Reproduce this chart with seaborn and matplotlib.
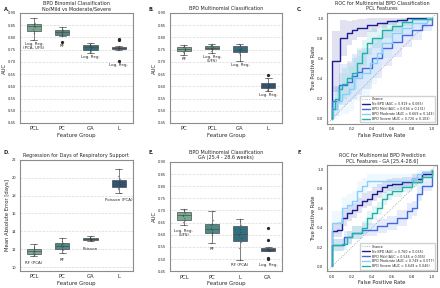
import numpy as np
import pandas as pd
import seaborn as sns
import matplotlib.pyplot as plt

# A - binomial classification, AUC per CV fold
a_groups = ["PCL", "PC", "GA", "L"]
a_pcl = [0.79, 0.82, 0.825, 0.835, 0.843, 0.847, 0.85, 0.855, 0.858, 0.88]
a_pc = [0.78, 0.805, 0.81, 0.815, 0.82, 0.822, 0.826, 0.832, 0.835, 0.842]
a_ga = [0.738, 0.742, 0.746, 0.75, 0.757, 0.762, 0.766, 0.77, 0.772, 0.776]
a_l = [0.705, 0.748, 0.752, 0.755, 0.757, 0.758, 0.761, 0.763, 0.79, 0.795]
a_models = ["Log. Reg.\n(PCA, UFS)", "RF", "Log. Reg.", "Log. Reg."]

# B - multinomial classification
b_groups = ["PC", "PCL", "GA", "L"]
b_pc = [0.727, 0.735, 0.742, 0.747, 0.75, 0.754, 0.758, 0.762, 0.765, 0.77]
b_pcl = [0.735, 0.745, 0.751, 0.754, 0.757, 0.76, 0.764, 0.767, 0.77, 0.773]
b_ga = [0.705, 0.73, 0.738, 0.745, 0.749, 0.752, 0.758, 0.765, 0.769, 0.772]
b_l = [0.58, 0.585, 0.59, 0.595, 0.598, 0.602, 0.607, 0.613, 0.632, 0.647]
b_models = ["RF", "Log. Reg.\n(UFS)", "Log. Reg.", "Log. Reg."]

# D - regression, MAE in days
d_groups = ["PCL", "PC", "GA", "L"]
d_pcl = [11.3, 11.4, 11.5, 11.6, 11.7, 11.8, 11.95, 12.1, 12.3, 12.6]
d_pc = [11.6, 11.9, 12.0, 12.2, 12.35, 12.45, 12.6, 12.75, 12.9, 13.3]
d_ga = [12.9, 12.98, 13.02, 13.06, 13.1, 13.13, 13.17, 13.22, 13.35, 13.45]
d_l = [18.3, 18.7, 18.9, 19.1, 19.25, 19.4, 19.6, 19.85, 20.2, 21.0]
d_models = ["RF (PCA)", "RF", "Poisson", "Poisson (PCA)"]

# E - multinomial, GA subset
e_groups = ["PCL", "PC", "L", "GA"]
e_pcl = [0.64, 0.652, 0.66, 0.67, 0.678, 0.683, 0.69, 0.697, 0.703, 0.707]
e_pc = [0.565, 0.6, 0.607, 0.613, 0.62, 0.628, 0.64, 0.646, 0.66, 0.698]
e_l = [0.497, 0.545, 0.57, 0.585, 0.6, 0.61, 0.625, 0.64, 0.655, 0.666]
e_ga = [0.50, 0.505, 0.532, 0.537, 0.54, 0.543, 0.546, 0.548, 0.58, 0.63]
e_models = ["Log. Reg.\n(UFS)", "RF", "RF (PCA)", "Log. Reg."]

# C - mean ROC curves (fpr, tpr, sd)
c_nobpd_x = [0, 0, 0.08, 0.15, 0.2, 0.25, 0.35, 0.45, 0.55, 0.65, 0.75, 1.0]
c_nobpd_y = [0, 0.57, 0.8, 0.85, 0.88, 0.9, 0.93, 0.95, 0.97, 0.98, 1.0, 1.0]
c_nobpd_sd = [0, 0.3, 0.18, 0.12, 0.1, 0.09, 0.07, 0.05, 0.04, 0.03, 0.02, 0]
c_mild_x = [0, 0, 0.07, 0.15, 0.2, 0.25, 0.3, 0.4, 0.5, 0.6, 0.7, 0.8, 0.9, 1.0, 1.0]
c_mild_y = [0, 0.18, 0.34, 0.37, 0.42, 0.46, 0.5, 0.6, 0.7, 0.76, 0.83, 0.88, 0.93, 0.97, 1.0]
c_mild_sd = [0, 0.15, 0.2, 0.2, 0.22, 0.22, 0.2, 0.2, 0.18, 0.15, 0.12, 0.1, 0.06, 0.03, 0]
c_mod_x = [0, 0, 0.05, 0.1, 0.17, 0.22, 0.3, 0.38, 0.45, 0.5, 0.6, 0.7, 0.8, 0.95, 1.0]
c_mod_y = [0, 0.1, 0.18, 0.25, 0.3, 0.4, 0.45, 0.55, 0.65, 0.75, 0.85, 0.9, 0.95, 1.0, 1.0]
c_mod_sd = [0, 0.1, 0.15, 0.2, 0.22, 0.22, 0.22, 0.2, 0.18, 0.15, 0.1, 0.08, 0.05, 0.02, 0]
c_sev_x = [0, 0, 0.03, 0.07, 0.1, 0.15, 0.2, 0.25, 0.3, 0.35, 0.4, 0.5, 0.6, 0.7, 0.8, 1.0]
c_sev_y = [0, 0.1, 0.2, 0.3, 0.35, 0.4, 0.45, 0.55, 0.65, 0.75, 0.8, 0.88, 0.92, 0.96, 0.99, 1.0]
c_sev_sd = [0, 0.1, 0.12, 0.15, 0.15, 0.15, 0.15, 0.15, 0.13, 0.12, 0.1, 0.08, 0.06, 0.04, 0.02, 0]
c_labels = ["No BPD (AUC = 0.919 \u00b1 0.065)", "BPD Mild (AUC = 0.694 \u00b1 0.131)",
            "BPD Moderate (AUC = 0.669 \u00b1 0.143)", "BPD Severe (AUC = 0.726 \u00b1 0.103)"]

# F - mean ROC curves, GA subset
f_nobpd_x = [0, 0, 0.05, 0.1, 0.15, 0.2, 0.25, 0.3, 0.35, 0.4, 0.45, 0.5, 0.55, 0.6, 0.7, 0.8, 0.9, 1.0, 1.0]
f_nobpd_y = [0, 0.37, 0.38, 0.5, 0.55, 0.58, 0.63, 0.68, 0.7, 0.75, 0.78, 0.82, 0.84, 0.85, 0.87, 0.9, 0.95, 0.97, 1.0]
f_nobpd_sd = [0, 0.07, 0.08, 0.08, 0.08, 0.08, 0.08, 0.08, 0.08, 0.07, 0.07, 0.06, 0.06, 0.06, 0.05, 0.05, 0.04, 0.03, 0]
f_mild_x = [0, 0, 0.12, 0.2, 0.3, 0.45, 0.55, 0.65, 0.75, 0.8, 0.85, 0.9, 1.0, 1.0]
f_mild_y = [0, 0.22, 0.3, 0.35, 0.38, 0.42, 0.45, 0.5, 0.57, 0.6, 0.75, 0.83, 0.97, 1.0]
f_mild_sd = [0, 0.06, 0.07, 0.07, 0.07, 0.07, 0.07, 0.08, 0.08, 0.08, 0.07, 0.05, 0.03, 0]
f_mod_x = [0, 0, 0.1, 0.15, 0.2, 0.25, 0.3, 0.35, 0.8, 0.85, 0.9, 1.0]
f_mod_y = [0, 0.45, 0.6, 0.63, 0.68, 0.78, 0.83, 0.88, 0.9, 0.95, 0.97, 1.0]
f_mod_sd = [0, 0.12, 0.12, 0.12, 0.1, 0.1, 0.08, 0.07, 0.06, 0.05, 0.03, 0]
f_sev_x = [0, 0, 0.1, 0.15, 0.2, 0.3, 0.35, 0.4, 0.45, 0.5, 0.55, 0.6, 0.7, 0.8, 0.9, 1.0, 1.0]
f_sev_y = [0, 0.22, 0.23, 0.3, 0.35, 0.4, 0.5, 0.55, 0.6, 0.7, 0.75, 0.78, 0.82, 0.87, 0.92, 0.95, 1.0]
f_sev_sd = [0, 0.06, 0.06, 0.07, 0.07, 0.07, 0.07, 0.07, 0.07, 0.07, 0.06, 0.06, 0.05, 0.05, 0.04, 0.03, 0]
f_labels = ["No BPD (AUC = 0.760 \u00b1 0.035)", "BPD Mild (AUC = 0.546 \u00b1 0.055)",
            "BPD Moderate (AUC = 0.749 \u00b1 0.077)", "BPD Severe (AUC = 0.649 \u00b1 0.046)"]

roc_colors = ["#1c1c94", "#4169e1", "#87cefa", "#20b2aa"]

sns.set_theme(style="white")
plt.rcParams["font.family"] = ["DejaVu Sans"]

pal = sns.color_palette("crest", 4)


def style_axes(ax):
    for s in ax.spines.values():
        s.set_color("0.55")
        s.set_linewidth(0.8)
    ax.tick_params(axis="both", length=1.5, width=0.4, pad=1, color="0.3")


def box_panel(ax, groups, values, models, title, ylabel, ylim, yticks, pad):
    df = pd.DataFrame({
        "group": np.repeat(groups, [len(v) for v in values]),
        "score": np.concatenate(values),
    })
    sns.boxplot(data=df, x="group", y="score", hue="group", order=groups,
                hue_order=groups, palette=pal, legend=False, width=0.5,
                linewidth=0.5, linecolor="0.3", fliersize=1.3, ax=ax,
                flierprops=dict(marker="o", markerfacecolor="0.15",
                                markeredgecolor="0.15"))
    sns.stripplot(data=df, x="group", y="score", order=groups, color="0.2",
                  size=1.0, jitter=0.03, alpha=0.5, ax=ax)
    for i, v in enumerate(values):
        ax.annotate(models[i], xy=(i, min(v)), xytext=(0, -pad),
                    textcoords="offset points", ha="center", va="top",
                    fontsize=2.9, linespacing=1.0)
    ax.set_ylim(ylim)
    ax.set_yticks(yticks)
    ax.yaxis.grid(True, linestyle="--", color="0.85", linewidth=0.5)
    ax.set_axisbelow(True)
    ax.set_title(title, fontsize=3.5, pad=2, linespacing=1.1)
    ax.set_xlabel("Feature Group", fontsize=3.9, labelpad=1)
    ax.set_ylabel(ylabel, fontsize=3.8, labelpad=1)
    ax.tick_params(axis="x", labelsize=3.8)
    ax.tick_params(axis="y", labelsize=2.6)
    style_axes(ax)


def roc_panel(ax, curves, labels, title):
    ax.axline((0, 0), slope=1, color="0.6", linestyle=":", linewidth=0.6,
              label="Chance")
    for (xs, ys, sd), lab, col in zip(curves, labels, roc_colors):
        ys = np.array(ys)
        sd = np.array(sd)
        ax.fill_between(xs, np.clip(ys - sd, 0, 1), np.clip(ys + sd, 0, 1),
                        step="post", color=col, alpha=0.13, linewidth=0)
        sns.lineplot(x=xs, y=ys, drawstyle="steps-post", estimator=None,
                     sort=False, color=col, linewidth=1.0, label=lab, ax=ax)
    ax.set_xlim(-0.05, 1.05)
    ax.set_ylim(-0.05, 1.05)
    ax.set_xticks(np.arange(0, 1.01, 0.2))
    ax.set_yticks(np.arange(0, 1.01, 0.2))
    ax.set_title(title, fontsize=3.5, pad=2, linespacing=1.1)
    ax.set_xlabel("False Positive Rate", fontsize=3.7, labelpad=1)
    ax.set_ylabel("True Positive Rate", fontsize=3.7, labelpad=1)
    ax.tick_params(labelsize=2.8)
    ax.legend(loc="lower right", fontsize=2.3, frameon=True, edgecolor="0.8",
              handlelength=2.5, borderpad=0.4, labelspacing=0.3,
              framealpha=0.9, fancybox=False)
    style_axes(ax)


fig = plt.figure(figsize=(4.4, 2.88), dpi=100)
ax_a = fig.add_axes([0.045, 0.573, 0.257, 0.382])
ax_b = fig.add_axes([0.386, 0.573, 0.255, 0.382])
ax_c = fig.add_axes([0.743, 0.57, 0.25, 0.385])
ax_d = fig.add_axes([0.045, 0.06, 0.257, 0.385])
ax_e = fig.add_axes([0.386, 0.058, 0.255, 0.38])
ax_f = fig.add_axes([0.743, 0.058, 0.25, 0.37])

auc_ticks = np.arange(0.45, 0.901, 0.05)

box_panel(ax_a, a_groups, [a_pcl, a_pc, a_ga, a_l], a_models,
          "BPD Binomial Classification\nNo/Mild vs Moderate/Severe", "AUC",
          (0.45, 0.90), auc_ticks, 1.5)
box_panel(ax_b, b_groups, [b_pc, b_pcl, b_ga, b_l], b_models,
          "BPD Multinomial Classification", "AUC",
          (0.45, 0.90), auc_ticks, 1.5)
box_panel(ax_d, d_groups, [d_pcl, d_pc, d_ga, d_l], d_models,
          "Regression for Days of Respiratory Support",
          "Mean Absolute Error [days]", (9.6, 22.0), np.arange(10, 22.1, 2), 4)
box_panel(ax_e, e_groups, [e_pcl, e_pc, e_l, e_ga], e_models,
          "BPD Multinomial Classification\nGA (25.4 - 28.6 weeks)", "AUC",
          (0.45, 0.90), auc_ticks, 2.5)

roc_panel(ax_c, [(c_nobpd_x, c_nobpd_y, c_nobpd_sd), (c_mild_x, c_mild_y, c_mild_sd),
                 (c_mod_x, c_mod_y, c_mod_sd), (c_sev_x, c_sev_y, c_sev_sd)],
          c_labels, "ROC for Multinomial BPD Classification\nPCL Features")
roc_panel(ax_f, [(f_nobpd_x, f_nobpd_y, f_nobpd_sd), (f_mild_x, f_mild_y, f_mild_sd),
                 (f_mod_x, f_mod_y, f_mod_sd), (f_sev_x, f_sev_y, f_sev_sd)],
          f_labels, "ROC for Multinomial BPD Prediction\nPCL Features - GA [25.4-28.6]")

# panel letters
for lab, x, y in [("A.", 0.008, 0.975), ("B.", 0.338, 0.975), ("C.", 0.675, 0.975),
                  ("D.", 0.008, 0.48), ("E.", 0.338, 0.48), ("F.", 0.675, 0.48)]:
    fig.text(x, y, lab, fontsize=3.6, fontweight="bold", va="top")

fig.savefig("out.png", dpi=100)
